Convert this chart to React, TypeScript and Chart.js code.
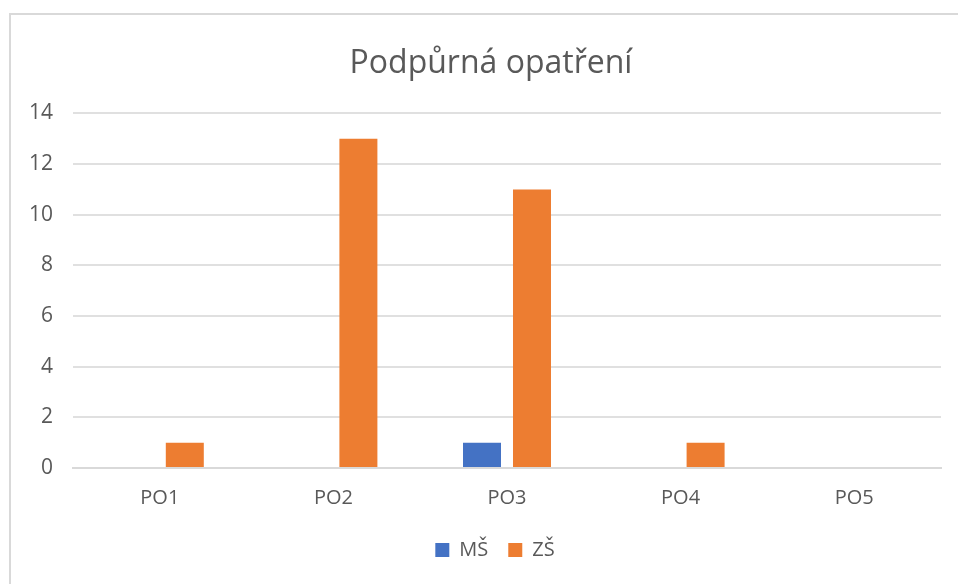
import React, { useEffect, useRef } from "react";
import { Chart, registerables } from "chart.js";
Chart.register(...registerables);

const categories = ["PO1", "PO2", "PO3", "PO4", "PO5"];
const msValues = [0, 0, 1, 0, 0];
const zsValues = [1, 13, 11, 1, 0];
const seriesNames = ["MŠ", "ZŠ"];
const titleText = "Podpůrná opatření";

const shiftBlocks = {
  id: "shiftBlocks",
  afterLayout(chart: any) {
    const t = chart.titleBlock;
    if (t) { t.left = 41; t.width = t.right - t.left; }
    const l = chart.legend;
    if (l) { l.left = 41 + 8; l.width = l.right - l.left; }
  },
};

export default function App() {
  const ref = useRef<HTMLCanvasElement>(null);
  useEffect(() => {
    document.body.style.overflow = "hidden";
    const ctx = ref.current!;
    const chart = new Chart(ctx, {
      type: "bar",
      data: {
        labels: categories,
        datasets: [
          { label: seriesNames[0], data: msValues, backgroundColor: "#4472C4", categoryPercentage: 0.576, barPercentage: 0.76 },
          { label: seriesNames[1], data: zsValues, backgroundColor: "#ED7D31", categoryPercentage: 0.576, barPercentage: 0.76 },
        ],
      },
      plugins: [shiftBlocks],
      options: {
        animation: false,
        responsive: false,
        maintainAspectRatio: false,
        layout: { padding: { left: 0, right: 17, top: 45, bottom: 14 } },
        plugins: {
          title: {
            display: true,
            text: titleText,
            color: "#595959",
            font: { family: "'Open Sans'", size: 32, weight: "normal" },
            padding: { top: 0, bottom: 30 },
          },
          legend: {
            position: "bottom",
            labels: {
              boxWidth: 14,
              boxHeight: 14,
              color: "#595959",
              font: { family: "'Open Sans'", size: 20 },
              padding: 20,
            },
          },
          tooltip: { enabled: false },
        },
        scales: {
          x: {
            grid: { display: false },
            border: { display: true, color: "#d9d9d9", width: 2 },
            ticks: { color: "#595959", font: { family: "'Open Sans'", size: 20 }, padding: 10 },
          },
          y: {
            min: 0,
            max: 14,
            afterFit: (s: any) => { s.width = 73; },
            grid: { color: "#e0e0e0", lineWidth: 2, drawTicks: false },
            border: { display: false },
            ticks: { stepSize: 2, color: "#595959", font: { family: "'Open Sans'", size: 21 }, padding: 20 },
          },
        },
      },
    });
    return () => chart.destroy();
  }, []);
  return (
    <div style={{ position: "absolute", left: 0, top: 0, width: 958, height: 584, overflow: "hidden", background: "#fff" }}>
      <div style={{ position: "absolute", left: 9, top: 13, width: 958, height: 584, borderLeft: "2px solid #d9d9d9", borderTop: "2px solid #d9d9d9" }} />
      <canvas ref={ref} width={958} height={584} style={{ position: "absolute", left: 0, top: 0 }} />
    </div>
  );
}
